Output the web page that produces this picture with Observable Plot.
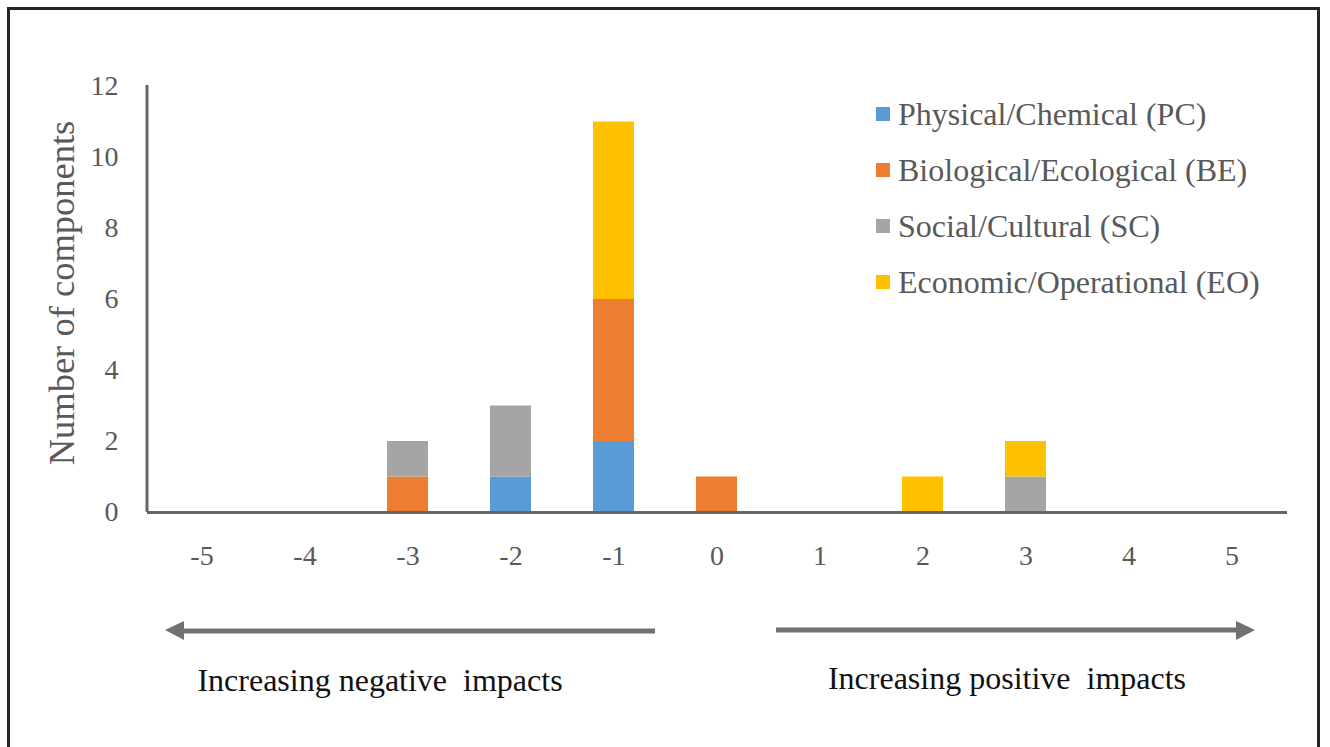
<!DOCTYPE html>
<html>
<head>
<meta charset="utf-8">
<script src="https://cdn.jsdelivr.net/npm/d3@7"></script>
<script src="https://cdn.jsdelivr.net/npm/@observablehq/plot@0.6"></script>
<style>
  html, body { margin: 0; padding: 0; background: #fff; }
  #wrap { position: relative; width: 1330px; height: 747px; overflow: hidden; font-family: "Liberation Serif", "Times New Roman", serif; }
  #border { position: absolute; left: 7px; top: 7px; width: 1313px; height: 800px; border: 3px solid #262626; box-sizing: border-box; }
  #chart { position: absolute; left: 0; top: 0; }
  #legend { position: absolute; left: 876px; top: 86px; color: #595959; font-size: 32px; font-family: "Liberation Serif", "Times New Roman", serif; }
  .item { height: 56px; display: flex; align-items: center; white-space: nowrap; }
  .sw { width: 14px; height: 14px; margin-right: 8px; flex: none; }
  #overlay { position: absolute; left: 0; top: 0; }
</style>
</head>
<body>
<div id="wrap">
  <div id="border"></div>
  <div id="chart"></div>
  <svg id="overlay" width="1330" height="747"></svg>
  <div id="legend"></div>
</div>
<script>
const categories = ["-5", "-4", "-3", "-2", "-1", "0", "1", "2", "3", "4", "5"];
const seriesNames = ["Physical/Chemical (PC)", "Biological/Ecological (BE)", "Social/Cultural (SC)", "Economic/Operational (EO)"];
const seriesColors = ["#5B9BD5", "#ED7D31", "#A5A5A5", "#FFC000"];
const PC = [0, 0, 0, 1, 2, 0, 0, 0, 0, 0, 0];
const BE = [0, 0, 1, 0, 4, 1, 0, 0, 0, 0, 0];
const SC = [0, 0, 1, 2, 0, 0, 0, 0, 1, 0, 0];
const EO = [0, 0, 0, 0, 5, 0, 0, 1, 1, 0, 0];
const yTicks = [0, 2, 4, 6, 8, 10, 12];
const yTitle = "Number of components";
const leftCaption = "Increasing negative\u00a0 impacts";
const rightCaption = "Increasing positive\u00a0 impacts";

const seriesValues = [PC, BE, SC, EO];
const data = [];
seriesNames.forEach((s, si) => {
  categories.forEach((c, ci) => {
    data.push({ cat: c, series: s, value: seriesValues[si][ci] });
  });
});

const W = 1330, H = 747;
const mL = 147, mR = 43, mT = 86, mB = 235;
const serif = "'Liberation Serif', 'Times New Roman', serif";

const axisLine = (index, scales, values, dims) => {
  const ns = "http://www.w3.org/2000/svg";
  const l = document.createElementNS(ns, "line");
  l.setAttribute("x1", dims.marginLeft);
  l.setAttribute("x2", dims.marginLeft);
  l.setAttribute("y1", dims.marginTop - 1);
  l.setAttribute("y2", dims.height - dims.marginBottom);
  l.setAttribute("stroke", "#666");
  l.setAttribute("stroke-width", 3);
  return l;
};

const chart = Plot.plot({
  width: W,
  height: H,
  marginLeft: mL,
  marginRight: mR,
  marginTop: mT,
  marginBottom: mB,
  style: { fontFamily: serif, fontSize: "28px", color: "#595959", background: "transparent" },
  x: { domain: categories, paddingInner: 0.6, paddingOuter: 0.3, align: 0.5 },
  y: { domain: [0, 12] },
  color: { domain: seriesNames, range: seriesColors },
  marks: [
    Plot.barY(data, { x: "cat", y: "value", fill: "series" }),
    Plot.axisY({ ticks: yTicks, tickSize: 0, tickPadding: 29, label: null, fill: "#595959", fontFamily: serif }),
    Plot.axisX({ tickSize: 0, tickPadding: 33, label: null, fill: "#595959", fontFamily: serif }),
    Plot.ruleY([0], { stroke: "#666", strokeWidth: 3 }),
    axisLine
  ]
});
document.getElementById("chart").appendChild(chart);

// legend
const legend = document.getElementById("legend");
seriesNames.forEach((s, i) => {
  const item = document.createElement("div");
  item.className = "item";
  const sw = document.createElement("span");
  sw.className = "sw";
  sw.style.background = seriesColors[i];
  const t = document.createElement("span");
  t.textContent = s;
  item.appendChild(sw);
  item.appendChild(t);
  legend.appendChild(item);
});

// overlay: y title, arrows, captions
const ov = d3.select("#overlay");
ov.append("text")
  .attr("transform", "translate(74,293) rotate(-90)")
  .attr("text-anchor", "middle")
  .attr("font-family", serif)
  .attr("font-size", 36.5)
  .attr("fill", "#595959")
  .text(yTitle);

const arrowCol = "#717171";
// left arrow
ov.append("line").attr("x1", 182).attr("x2", 655).attr("y1", 631).attr("y2", 631)
  .attr("stroke", arrowCol).attr("stroke-width", 5);
ov.append("path").attr("d", "M165,630 L184,621 L184,640 Z").attr("fill", arrowCol);
// right arrow
ov.append("line").attr("x1", 776).attr("x2", 1238).attr("y1", 630).attr("y2", 630)
  .attr("stroke", arrowCol).attr("stroke-width", 5);
ov.append("path").attr("d", "M1255,630 L1236,621 L1236,640 Z").attr("fill", arrowCol);

ov.append("text").attr("x", 380).attr("y", 691).attr("text-anchor", "middle")
  .attr("font-family", serif)
  .attr("font-size", 32).attr("fill", "#111").text(leftCaption);
ov.append("text").attr("x", 1007).attr("y", 689).attr("text-anchor", "middle")
  .attr("font-family", serif)
  .attr("font-size", 32).attr("fill", "#111").text(rightCaption);
</script>
</body>
</html>
